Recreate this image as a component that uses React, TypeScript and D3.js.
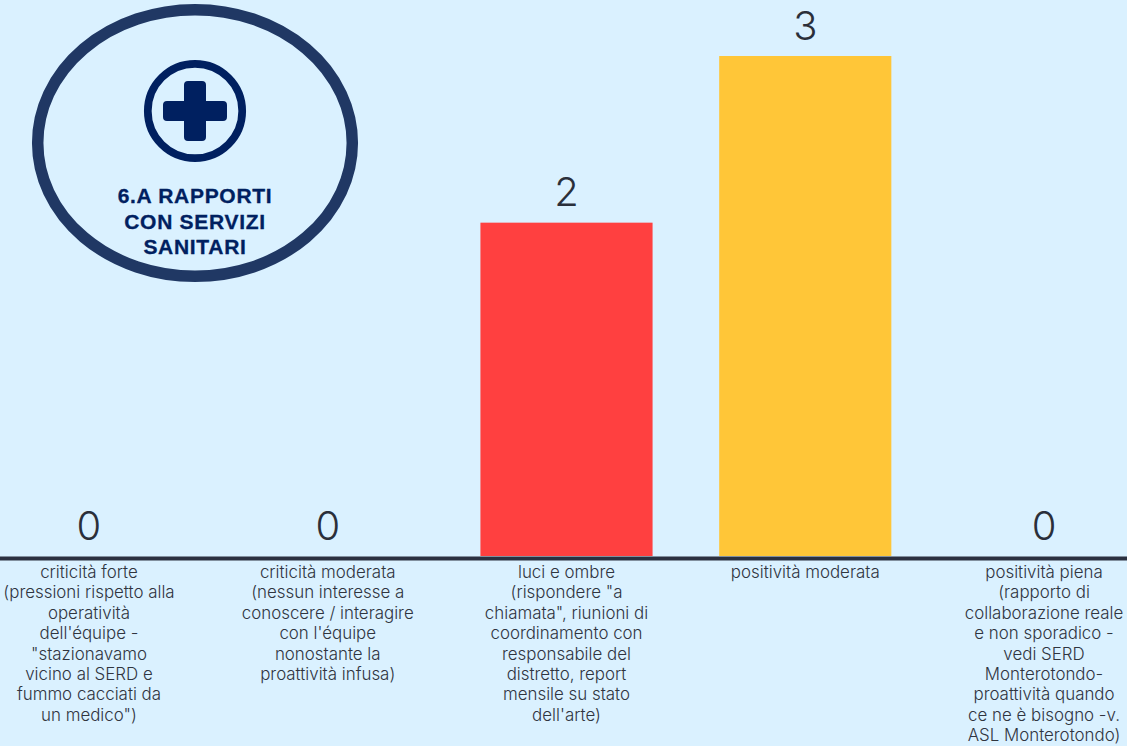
import React from "react";
import * as d3 from "d3";

const categories = ["forte", "moderata", "luci", "positiva", "piena"];
const values = [0, 0, 2, 3, 0];
const barColors = ["#ff4040", "#ff4040", "#ff4040", "#ffc638", "#ffc638"];
const categoryLines = [
  ["criticità forte", "(pressioni rispetto alla", "operatività", "dell'équipe -", "\"stazionavamo", "vicino al SERD e", "fummo cacciati da", "un medico\")"],
  ["criticità moderata", "(nessun interesse a", "conoscere / interagire", "con l'équipe", "nonostante la", "proattività infusa)"],
  ["luci e ombre", "(rispondere \"a", "chiamata\", riunioni di", "coordinamento con", "responsabile del", "distretto, report", "mensile su stato", "dell'arte)"],
  ["positività moderata"],
  ["positività piena", "(rapporto di", "collaborazione reale", "e non sporadico -", "vedi SERD", "Monterotondo-", "proattività quando", "ce ne è bisogno -v.", "ASL Monterotondo)"],
];
const badgeLines = ["6.A RAPPORTI", "CON SERVIZI", "SANITARI"];

const WIDTH = 1127;
const HEIGHT = 746;
const FONT = "Inter, 'Noto Sans', sans-serif";

export default function App() {
  const x = d3.scaleBand<string>().domain(categories).range([-30.4, 1163.4]).paddingInner(0.279).paddingOuter(0.1395);
  const y = d3.scaleLinear().domain([0, 3]).range([556, 56]);

  return (
    <svg
      width={WIDTH}
      height={HEIGHT}
      viewBox={`0 0 ${WIDTH} ${HEIGHT}`}
      style={{ position: "fixed", left: 0, top: 0, background: "#daf1ff", display: "block" }}
    >
      <rect width={WIDTH} height={HEIGHT} fill="#daf1ff" />

      {categories.map((c, i) => {
        const left = x(c)!;
        const cx = left + x.bandwidth() / 2;
        return (
          <g key={c}>
            {values[i] > 0 && (
              <rect x={left} y={y(values[i])} width={x.bandwidth()} height={y(0) - y(values[i])} fill={barColors[i]} />
            )}
            <text
              x={cx}
              y={y(values[i]) - 16.5}
              textAnchor="middle"
              fontFamily={FONT}
              fontSize={40}
              fontWeight={300}
              fill="#2a2f3a"
            >
              {values[i]}
            </text>
            <text textAnchor="middle" fontFamily={FONT} fontSize={16.9} fontWeight={300} fill="#30353f">
              {categoryLines[i].map((line, k) => (
                <tspan key={k} x={cx} y={578 + k * 20.4}>
                  {line}
                </tspan>
              ))}
            </text>
          </g>
        );
      })}

      <line x1={0} x2={WIDTH} y1={558.5} y2={558.5} stroke="#2b3040" strokeWidth={4} />

      <g>
        <ellipse cx={195} cy={143} rx={157.3} ry={133.3} fill="none" stroke="#203864" strokeWidth={11.5} />
        <circle cx={195} cy={111} r={47.2} fill="none" stroke="#002060" strokeWidth={7.7} />
        <path
          d="M188 81 h14 a4 4 0 0 1 4 4 v16 h17 a4 4 0 0 1 4 4 v12 a4 4 0 0 1 -4 4 h-17 v16 a4 4 0 0 1 -4 4 h-14 a4 4 0 0 1 -4 -4 v-16 h-17 a4 4 0 0 1 -4 -4 v-12 a4 4 0 0 1 4 -4 h17 v-16 a4 4 0 0 1 4 -4 z"
          fill="#002060"
        />
        <text
          textAnchor="middle"
          fontFamily="'Liberation Sans', Arial, sans-serif"
          fontSize={21}
          fontWeight={700}
          letterSpacing={0.7}
          stroke="#002060"
          strokeWidth={0.3}
          fill="#002060"
        >
          {badgeLines.map((line, k) => (
            <tspan key={k} x={195} y={203 + k * 25.5}>
              {line}
            </tspan>
          ))}
        </text>
      </g>
    </svg>
  );
}
